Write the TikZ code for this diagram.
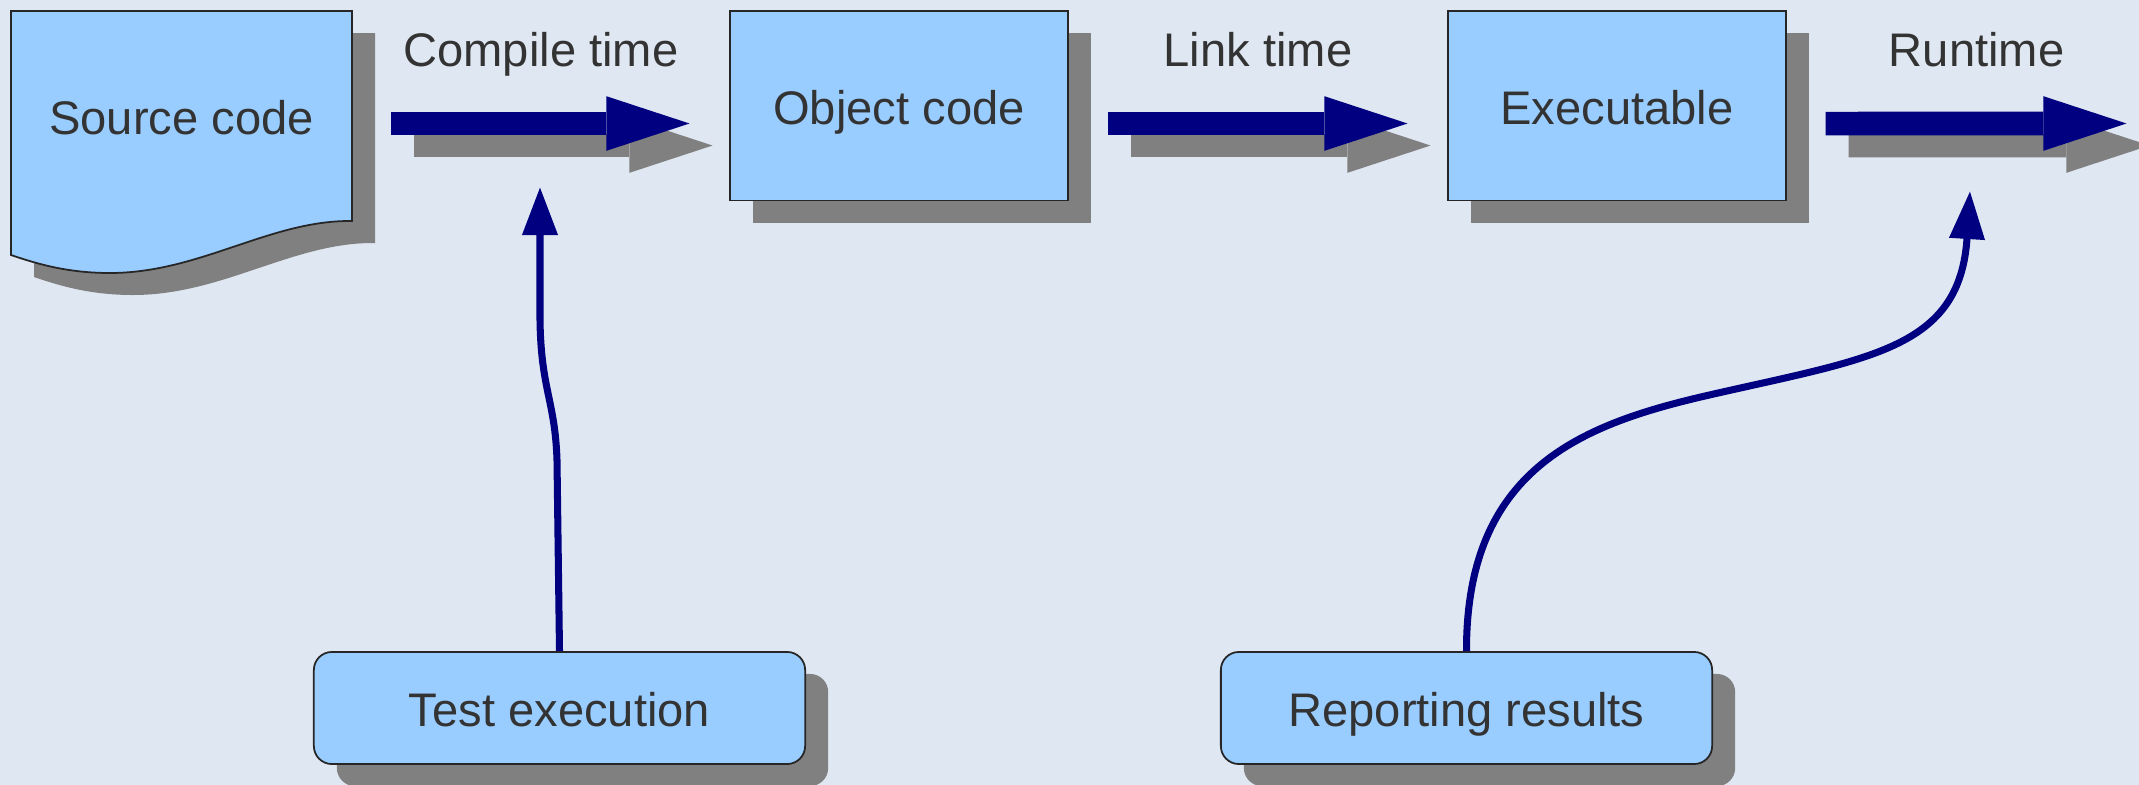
\documentclass[tikz,border=0pt]{standalone}
\usepackage{fontspec}
\setmainfont{Liberation Sans}
\usetikzlibrary{arrows.meta,shadows}
\definecolor{bgblue}{RGB}{223,231,242}
\definecolor{boxblue}{RGB}{153,204,255}
\definecolor{shadowgray}{RGB}{128,128,128}
\definecolor{flowblue}{RGB}{0,0,128}
\definecolor{txtgray}{RGB}{51,51,51}
\tikzset{
  lbl/.style={text=txtgray, font=\fontsize{13.4}{16}\selectfont, inner sep=0pt,
    text height=0.375cm, text depth=0pt},
  block/.style={rectangle, draw=black!85, line width=0.5pt, fill=boxblue, lbl,
    minimum width=3.38cm, minimum height=1.895cm,
    drop shadow={shadow xshift=0.23cm, shadow yshift=-0.22cm, fill=shadowgray, opacity=1}},
  task/.style={block, rounded corners=0.18cm, minimum width=4.91cm, minimum height=1.12cm},
  flow/.style={draw=flowblue, line width=0.235cm,
    -{Triangle[length=0.83cm, width=0.545cm, line width=0pt]},
    shorten <=0.385cm, shorten >=0.395cm},
  flowshade/.style={flow, draw=shadowgray, transform canvas={xshift=0.23cm, yshift=-0.22cm}},
  hint/.style={draw=flowblue, line width=2pt, -{Triangle[length=0.48cm, width=0.34cm]}},
}
% page with a wavy bottom edge
\def\docshape[#1]{\draw[#1] (11,11) -- (352,11) -- (352,221) .. controls (270,220) and (200,273) .. (110,273) .. controls (70,273) and (40,265) .. (11,255) -- cycle;}

\begin{document}
\begin{tikzpicture}[x=0.01cm, y=-0.01cm]
		%%%%% START %%%%%
		
		\fill[bgblue] (0,0) rectangle (2139,785);
		\useasboundingbox (0,0) rectangle (2139,785);
		
		\docshape[draw=none, fill=shadowgray, transform canvas={xshift=0.23cm, yshift=-0.22cm}]
		\docshape[fill=boxblue, draw=black!85, line width=0.5pt]
		\node[minimum width=3.41cm, minimum height=1.895cm] (src) at (181.5,105.75) {};
		\node[lbl] (srctxt) at (181.5,116) {Source code};
		
		\node[block] (obj) at (899,105.75) {Object code};
		\node[block] (exe) at (1617,105.75) {Executable};
		\coordinate (beyond) at (2166,123.5);
		
		\node[task] (tst) at (559.5,708) {Test execution};
		\node[task] (rep) at (1466.5,708) {Reporting results};
		\coordinate (ctip) at (540,187);
		\coordinate (rtip) at (1970,191);
		
		\draw[flowshade] ([yshift=-0.1775cm]src.east) -- ([yshift=-0.1775cm]obj.west);
		\draw[flowshade] ([yshift=-0.1775cm]obj.east) -- ([yshift=-0.1775cm]exe.west);
		\draw[flowshade] ([yshift=-0.1775cm]exe.east) -- (beyond);
		
		\draw[flow] ([yshift=-0.1775cm]src.east) -- ([yshift=-0.1775cm]obj.west)
			node[lbl, midway, yshift=0.755cm] (ctime) {Compile time};
		\draw[flow] ([yshift=-0.1775cm]obj.east) -- ([yshift=-0.1775cm]exe.west)
			node[lbl, midway, yshift=0.755cm] (ltime) {Link time};
		\draw[flow] ([yshift=-0.1775cm]exe.east) -- (beyond)
			node[lbl, midway, yshift=0.755cm] (rtime) {Runtime};
		
		\draw[hint] (tst.north) -- (557,460) .. controls (555,400) and (541,390) .. (540,320) -- (ctip);
		\draw[hint] (rep.north) .. controls (1466,470) and (1580,425) .. (1705,396)
			.. controls (1870,358) and (1960,350) .. (rtip);
		
		%%%%% END %%%%%
\end{tikzpicture}
\end{document}
